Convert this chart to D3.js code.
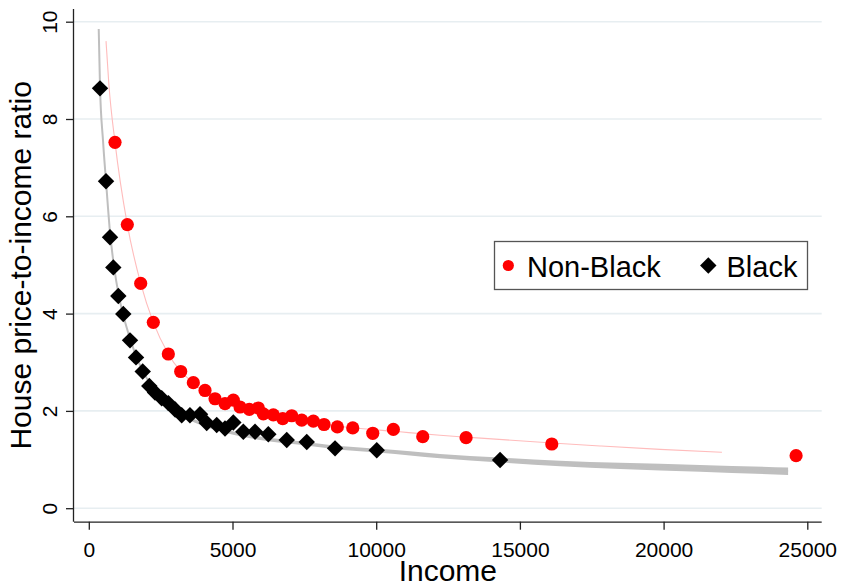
<!DOCTYPE html>
<html>
<head>
<meta charset="utf-8">
<script src="https://cdn.jsdelivr.net/npm/d3@7"></script>
<style>
    body { margin: 0; background: #fff; }
    svg { display: block; font-family: "Liberation Sans", Arial, sans-serif; }
</style>
</head>
<body>
<svg id="chart" width="841" height="586"></svg>
<script>
// Données
const xTicks = [0, 5000, 10000, 15000, 20000, 25000];
const yTicks = [0, 2, 4, 6, 8, 10];

const incomeNonBlack = [912, 1340, 1806, 2245, 2767, 3198, 3637, 4044, 4392, 4740, 5029, 5262, 5585, 5899, 6073, 6421, 6748, 7061, 7409, 7813, 8185, 8648, 9184, 9880, 10597, 11620, 13127, 16109, 24610];
const ratioNonBlack = [7.52, 5.83, 4.62, 3.82, 3.17, 2.81, 2.58, 2.42, 2.25, 2.15, 2.22, 2.08, 2.03, 2.06, 1.94, 1.92, 1.84, 1.90, 1.81, 1.79, 1.72, 1.67, 1.65, 1.54, 1.62, 1.47, 1.45, 1.32, 1.08];

const incomeBlack = [390, 599, 738, 853, 1027, 1200, 1434, 1643, 1876, 2105, 2304, 2537, 2767, 3004, 3233, 3520, 3870, 4103, 4451, 4740, 5029, 5377, 5784, 6247, 6887, 7583, 8568, 10019, 14310];
const ratioBlack = [8.63, 6.72, 5.57, 4.95, 4.36, 3.99, 3.45, 3.10, 2.81, 2.51, 2.38, 2.26, 2.16, 2.03, 1.91, 1.91, 1.93, 1.75, 1.71, 1.64, 1.76, 1.57, 1.57, 1.52, 1.40, 1.36, 1.23, 1.19, 0.99];

// courbes ajustées
const fitIncomeNonBlack = [599, 700, 912, 1340, 1806, 2245, 2767, 3630, 4740, 5960, 7350, 8741, 10823, 12222, 13127, 16120, 17790, 19880, 22030];
const fitRatioNonBlack = [9.60, 8.70, 7.52, 5.83, 4.62, 3.82, 3.17, 2.57, 2.18, 1.97, 1.79, 1.68, 1.57, 1.50, 1.46, 1.34, 1.28, 1.21, 1.15];

const fitIncomeBlack = [345, 390, 494, 599, 738, 877, 1034, 1225, 1434, 1677, 1960, 2304, 2756, 3348, 4044, 4914, 5958, 7350, 8741, 10133, 12222, 14310, 16398, 18486, 21270, 24332];
const fitRatioBlack = [9.85, 8.67, 7.56, 6.72, 5.67, 4.97, 4.40, 3.91, 3.49, 3.08, 2.73, 2.43, 2.14, 1.89, 1.71, 1.56, 1.44, 1.34, 1.24, 1.18, 1.07, 0.99, 0.92, 0.87, 0.82, 0.76];
const fitCIBlack = [0.01, 0.012, 0.015, 0.017, 0.018, 0.02, 0.02, 0.021, 0.022, 0.023, 0.025, 0.026, 0.028, 0.03, 0.032, 0.034, 0.036, 0.037, 0.038, 0.04, 0.045, 0.05, 0.056, 0.062, 0.07, 0.078];

const legendLabels = ["Non-Black", "Black"];

// Graph
const svg = d3.select("#chart");

const x = d3.scaleLinear()
    .domain([0, 25000])
    .range([88.8, 807.3]);

const y = d3.scaleLinear()
    .domain([0, 10])
    .range([508.2, 21.7]);

const plotLeft = 74, plotRight = 821.7, plotBottom = 521.7, plotTop = 9;

// grille
svg.append("g")
    .selectAll("line")
    .data(yTicks)
    .enter()
    .append("line")
    .attr("x1", plotLeft)
    .attr("x2", plotRight)
    .attr("y1", d => y(d))
    .attr("y2", d => y(d))
    .style("stroke", "#e7eef1")
    .style("stroke-width", 1.6);

// Axes
const gx = svg.append("g")
    .attr("transform", `translate(0,${plotBottom})`)
    .call(d3.axisBottom(x).tickValues(xTicks).tickFormat(d3.format("d")).tickSize(8).tickSizeOuter(0));
gx.select(".domain").attr("d", `M${plotLeft},0.5H${plotRight}`);
gx.selectAll("text")
    .attr("y", 35)
    .attr("dy", 0)
    .attr("font-size", 21)
    .attr("font-family", "Liberation Sans, Arial, sans-serif")
    .style("fill", "#000");

const gy = svg.append("g")
    .attr("transform", `translate(${plotLeft},0)`)
    .call(d3.axisLeft(y).tickValues(yTicks).tickFormat(d3.format("d")).tickSize(8).tickSizeOuter(0));
gy.select(".domain").attr("d", `M-0.5,${plotTop}V${plotBottom}`);
gy.selectAll("text")
    .attr("x", 0)
    .attr("dy", 0)
    .attr("text-anchor", "middle")
    .attr("transform", "translate(-17,0) rotate(-90)")
    .attr("font-size", 21)
    .attr("font-family", "Liberation Sans, Arial, sans-serif")
    .style("fill", "#000");

svg.selectAll(".domain, .tick line")
    .style("stroke", "#222")
    .style("stroke-width", 1.3);

svg.append("text")
    .attr("x", (plotLeft + plotRight) / 2)
    .attr("y", 581)
    .attr("text-anchor", "middle")
    .attr("font-size", 30)
    .text("Income");

svg.append("text")
    .attr("transform", `translate(31,${(plotTop + plotBottom) / 2}) rotate(-90)`)
    .attr("text-anchor", "middle")
    .attr("font-size", 30)
    .text("House price-to-income ratio");

// courbe noire + intervalle
const bandBlack = fitIncomeBlack.map((d, i) => ({ x: d, y: fitRatioBlack[i], ci: fitCIBlack[i] }));
svg.append("path")
    .datum(bandBlack)
    .attr("d", d3.area()
        .x(d => x(d.x))
        .y0(d => y(d.y - d.ci))
        .y1(d => y(d.y + d.ci))
        .curve(d3.curveMonotoneX))
    .style("fill", "#bfbfbf");
svg.append("path")
    .datum(bandBlack)
    .attr("d", d3.line()
        .x(d => x(d.x))
        .y(d => y(d.y))
        .curve(d3.curveMonotoneX))
    .style("fill", "none")
    .style("stroke", "#bfbfbf")
    .style("stroke-width", 2);

// courbe rouge
const lineNonBlack = fitIncomeNonBlack.map((d, i) => ({ x: d, y: fitRatioNonBlack[i] }));
svg.append("path")
    .datum(lineNonBlack)
    .attr("d", d3.line()
        .x(d => x(d.x))
        .y(d => y(d.y))
        .curve(d3.curveMonotoneX))
    .style("fill", "none")
    .style("stroke", "#ffbcbc")
    .style("stroke-width", 1.1);

// points
svg.append("g")
    .selectAll("circle")
    .data(incomeNonBlack.map((d, i) => ({ x: d, y: ratioNonBlack[i] })))
    .enter()
    .append("circle")
    .attr("cx", d => x(d.x))
    .attr("cy", d => y(d.y))
    .attr("r", 6.6)
    .style("fill", "#ff0000");

const diamond = d3.symbol().type(d3.symbolSquare).size(135);
svg.append("g")
    .selectAll("path")
    .data(incomeBlack.map((d, i) => ({ x: d, y: ratioBlack[i] })))
    .enter()
    .append("path")
    .attr("d", diamond)
    .attr("transform", d => `translate(${x(d.x)},${y(d.y)}) rotate(45)`)
    .style("fill", "#000");

// Légende
const leg = svg.append("g");
leg.append("rect")
    .attr("x", 494.5)
    .attr("y", 241.5)
    .attr("width", 313)
    .attr("height", 48)
    .style("fill", "#fff")
    .style("stroke", "#555")
    .style("stroke-width", 1.3);
leg.append("circle")
    .attr("cx", 508.3)
    .attr("cy", 265.5)
    .attr("r", 5.6)
    .style("fill", "#ff0000");
leg.append("text")
    .attr("x", 527)
    .attr("y", 276.5)
    .attr("font-size", 29)
    .text(legendLabels[0]);
leg.append("path")
    .attr("d", d3.symbol().type(d3.symbolSquare).size(135))
    .attr("transform", "translate(708.3,265.5) rotate(45)")
    .style("fill", "#000");
leg.append("text")
    .attr("x", 726.5)
    .attr("y", 276.5)
    .attr("font-size", 29)
    .text(legendLabels[1]);
</script>
</body>
</html>
